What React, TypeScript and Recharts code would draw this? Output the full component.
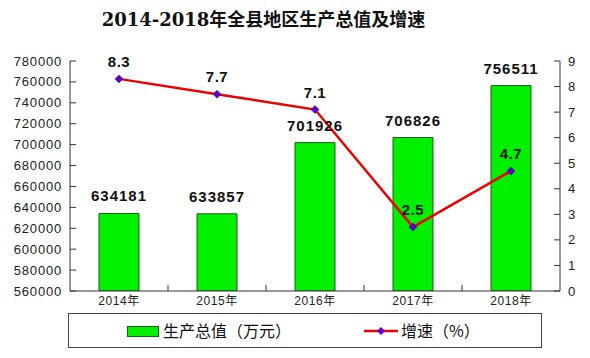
import React from 'react';
import { ComposedChart, Bar, Line, XAxis, YAxis, LabelList } from 'recharts';

const years = ['2014年', '2015年', '2016年', '2017年', '2018年'];
const gdpValues = [634181, 633857, 701926, 706826, 756511];
const growthRates = [8.3, 7.7, 7.1, 2.5, 4.7];
const leftTicks = [560000, 580000, 600000, 620000, 640000, 660000, 680000, 700000, 720000, 740000, 760000, 780000];
const rightTicks = [0, 1, 2, 3, 4, 5, 6, 7, 8, 9];

const data = years.map((year, i) => ({ year, gdp: gdpValues[i], rate: growthRates[i] }));

const FONT = '"Liberation Sans", Arial, "Noto Sans CJK SC", sans-serif';
const AXIS_COLOR = '#333';

const LeftTick = (props: any) => {
  const { x, y, payload } = props;
  return (
    <g>
      <line x1={x + 8} y1={y} x2={x + 14} y2={y} stroke={AXIS_COLOR} strokeWidth={1} />
      <text x={x} y={y} dy="0.35em" textAnchor="end" fontSize={13} letterSpacing={0.8} fill="#222" fontFamily={FONT}>
        {payload.value}
      </text>
    </g>
  );
};

const RightTick = (props: any) => {
  const { x, y, payload } = props;
  return (
    <g>
      <line x1={x - 8} y1={y} x2={x - 14} y2={y} stroke={AXIS_COLOR} strokeWidth={1} />
      <text x={x} y={y} dy="0.35em" textAnchor="start" fontSize={13} fill="#222" fontFamily={FONT}>
        {payload.value}
      </text>
    </g>
  );
};

const BottomTick = (props: any) => {
  const { x, y, payload, index } = props;
  const half = 49;
  return (
    <g>
      {index < years.length - 1 && (
        <line x1={x + half} y1={y - 10} x2={x + half} y2={y - 16} stroke={AXIS_COLOR} strokeWidth={1} />
      )}
      <text x={x} y={y} dy="0.35em" textAnchor="middle" fontSize={12} letterSpacing={0.6} fill="#222" fontFamily={FONT}>
        {payload.value}
      </text>
    </g>
  );
};

const Diamond = (props: any) => {
  const { cx, cy, index } = props;
  return (
    <path
      key={`d-${index}`}
      d={`M${cx},${cy - 4} L${cx + 4},${cy} L${cx},${cy + 4} L${cx - 4},${cy} Z`}
      fill="#5a00c8"
      stroke="#3a0090"
      strokeWidth={0.5}
    />
  );
};

export default function App() {
  return (
    <div style={{ position: 'absolute', left: 0, top: 0, width: 590, height: 358, background: '#fff' }}>
      <div
        style={{
          position: 'absolute',
          top: 5,
          left: 0,
          width: 527,
          textAlign: 'center',
          fontSize: 18,
          fontWeight: 'bold',
          fontFamily: '"DejaVu Serif", "Liberation Serif", "Noto Sans CJK SC", serif',
          color: '#111',
        }}
      >
        2014-2018年全县地区生产总值及增速
      </div>
      <ComposedChart width={590} height={358} data={data} margin={{ top: 61, right: 0, bottom: 47, left: 0 }}>
        <XAxis
          dataKey="year"
          height={20}
          tickSize={0}
          tickMargin={10}
          tick={<BottomTick />}
          axisLine={{ stroke: AXIS_COLOR }}
          interval={0}
        />
        <YAxis
          yAxisId="left"
          orientation="left"
          width={70}
          domain={[560000, 780000]}
          ticks={leftTicks}
          tickSize={0}
          tickMargin={8}
          tick={<LeftTick />}
          axisLine={{ stroke: AXIS_COLOR }}
          interval={0}
          allowDataOverflow
        />
        <YAxis
          yAxisId="right"
          orientation="right"
          width={30}
          domain={[0, 9]}
          ticks={rightTicks}
          tickSize={0}
          tickMargin={8}
          tick={<RightTick />}
          axisLine={{ stroke: AXIS_COLOR }}
          interval={0}
        />
        <Bar yAxisId="left" dataKey="gdp" barSize={40} fill="#00f000" stroke="#1f5a1f" strokeWidth={1} isAnimationActive={false}>
          <LabelList
            dataKey="gdp"
            position="top"
            offset={12}
            fontSize={15}
            fontWeight="bold"
            letterSpacing={1}
            fill="#111"
            fontFamily={FONT}
          />
        </Bar>
        <Line
          yAxisId="right"
          dataKey="rate"
          stroke="#ee0000"
          strokeWidth={2.5}
          dot={<Diamond />}
          activeDot={false}
          isAnimationActive={false}
        >
          <LabelList
            dataKey="rate"
            position="top"
            offset={12}
            fontSize={15}
            fontWeight="bold"
            letterSpacing={0.5}
            fill="#111"
            fontFamily={FONT}
          />
        </Line>
      </ComposedChart>
      <div
        style={{
          position: 'absolute',
          left: 68,
          top: 313,
          width: 472,
          height: 33,
          border: '1px solid #444',
          boxSizing: 'content-box',
          fontFamily: '"Noto Sans CJK SC", sans-serif',
          fontSize: 16,
          color: '#111',
        }}
      >
        <div style={{ position: 'absolute', left: 58, top: 12, width: 30, height: 9, background: '#00f000', border: '1px solid #1f5a1f' }} />
        <div style={{ position: 'absolute', left: 94, top: 5, lineHeight: '22px', whiteSpace: 'nowrap' }}>生产总值（万元）</div>
        <svg style={{ position: 'absolute', left: 295, top: 10 }} width={34} height={14}>
          <line x1={0} y1={7} x2={34} y2={7} stroke="#ee0000" strokeWidth={2.5} />
          <path d="M17,3 L21,7 L17,11 L13,7 Z" fill="#5a00c8" />
        </svg>
        <div style={{ position: 'absolute', left: 332, top: 5, lineHeight: '22px', whiteSpace: 'nowrap' }}>增速（%）</div>
      </div>
    </div>
  );
}
